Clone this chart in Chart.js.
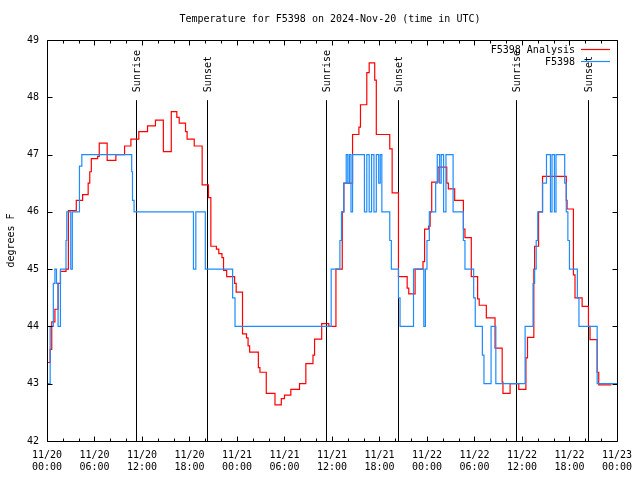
<!DOCTYPE html>
<html>
<head>
<meta charset="utf-8">
<title>Temperature for F5398</title>
<script src="https://cdn.jsdelivr.net/npm/chart.js@4/dist/chart.umd.min.js"></script>
<style>
  body { margin: 0; background: #fff; }
  canvas { display: block; }
</style>
</head>
<body>
<canvas id="tempChart" width="640" height="480"></canvas>
<script>
// hours since 2024-11-20 00:00 UTC
const analysisHours = [
  0.0, 0.4, 0.6, 1.0, 1.4, 1.7, 2.4, 2.7, 3.7, 4.5,
  5.2, 5.4, 5.6, 6.4, 6.6, 7.6, 8.7, 9.8, 10.6, 11.6,
  12.7, 13.7, 14.7, 15.7, 16.4, 16.7, 17.5, 17.7, 18.6, 19.6,
  20.4, 20.7, 21.4, 21.7, 22.1, 22.3, 22.7, 23.7, 23.9, 24.7,
  25.2, 25.4, 25.6, 26.7, 26.9, 27.7, 28.8, 29.6, 30.0, 30.8,
  31.9, 32.7, 33.6, 33.8, 34.7, 35.6, 36.5, 37.3, 37.5, 38.6,
  39.4, 39.6, 40.4, 40.7, 41.4, 41.6, 43.3, 43.6, 44.4, 45.5,
  45.7, 46.5, 47.5, 47.7, 48.2, 48.4, 48.6, 49.4, 50.5, 50.7,
  51.5, 52.6, 52.8, 53.6, 54.4, 54.6, 55.5, 56.6, 57.5, 57.6,
  58.5, 59.6, 60.5, 60.7, 61.5, 61.6, 62.1, 62.6, 65.6, 65.7,
  66.5, 66.7, 67.6, 68.4, 68.6, 69.5, 69.7, 71.3
];
const analysisTemps = [
  43.37, 43.6, 44.08, 44.3, 44.75, 44.96, 45.0, 46.02, 46.2, 46.3,
  46.5, 46.7, 46.93, 46.97, 47.2, 46.9, 47.0, 47.15, 47.27, 47.4,
  47.5, 47.6, 47.05, 47.75, 47.65, 47.55, 47.4, 47.27, 47.15, 46.47,
  46.25, 45.4, 45.35, 45.27, 45.2, 44.98, 44.87, 44.75, 44.6, 43.87,
  43.8, 43.66, 43.55, 43.28, 43.2, 42.83, 42.63, 42.74, 42.8, 42.9,
  43.0, 43.35, 43.5, 43.78, 44.05, 44.0, 45.0, 46.0, 46.5, 47.35,
  47.48, 47.87, 48.43, 48.6, 48.3, 47.35, 47.1, 46.33, 44.87, 44.67,
  44.57, 45.0, 45.13, 45.7, 45.75, 46.0, 46.52, 46.78, 46.5, 46.4,
  46.2, 45.7, 45.55, 44.87, 44.48, 44.37, 44.15, 43.62, 43.03, 42.83,
  43.0, 42.9, 43.45, 43.81, 45.0, 45.4, 46.0, 46.62, 46.2, 46.05,
  44.9, 44.5, 44.35, 44.0, 43.77, 43.2, 42.98, 42.98
];

const stationHours = [
  0.0, 0.4, 0.8, 1.0, 1.2, 1.4, 1.7, 2.4, 2.5, 3.0,
  3.2, 4.1, 4.4, 10.7, 10.8, 11.0, 18.5, 18.8, 20.0, 23.45,
  23.75, 35.9, 37.0, 37.2, 37.5, 37.8, 38.0, 38.2, 38.4, 38.6,
  40.1, 40.4, 40.7, 41.0, 41.3, 41.6, 41.9, 42.1, 42.3, 43.3,
  43.5, 44.4, 44.6, 46.3, 47.6, 47.8, 48.0, 48.3, 49.1, 49.3,
  49.6, 49.8, 50.1, 50.4, 51.3, 52.6, 52.8, 53.9, 54.1, 55.0,
  55.2, 56.1, 56.7, 60.4, 61.4, 61.6, 61.8, 62.0, 62.6, 63.1,
  63.6, 63.8, 64.1, 64.3, 65.4, 65.6, 65.8, 66.0, 67.0, 67.2,
  69.5, 72.0
];
const stationTemps = [
  43.0, 44.0, 44.75, 45.0, 44.75, 44.0, 45.0, 45.5, 46.0, 45.0,
  46.0, 46.8, 47.0, 46.7, 46.2, 46.0, 45.0, 46.0, 45.0, 44.5,
  44.0, 45.0, 45.5, 46.0, 46.5, 47.0, 46.5, 47.0, 46.0, 47.0,
  46.0, 47.0, 46.0, 47.0, 46.0, 47.0, 46.5, 47.0, 46.0, 45.5,
  45.0, 44.5, 44.0, 45.0, 44.0, 45.0, 45.5, 46.0, 46.5, 47.0,
  46.5, 47.0, 46.0, 47.0, 46.0, 45.5, 45.0, 44.5, 44.0, 43.5,
  43.0, 44.0, 43.0, 44.0, 44.75, 45.0, 45.5, 46.0, 46.5, 47.0,
  46.0, 47.0, 46.0, 47.0, 46.5, 46.0, 45.5, 45.0, 44.5, 44.0,
  43.0, 43.0
];

const sunHours = [11.18, 20.2, 35.22, 44.29, 59.27, 68.28];
const sunLabels = ['Sunrise', 'Sunset', 'Sunrise', 'Sunset', 'Sunrise', 'Sunset'];

const xTickLabels = [
  ['11/20', '00:00'], ['11/20', '06:00'], ['11/20', '12:00'], ['11/20', '18:00'],
  ['11/21', '00:00'], ['11/21', '06:00'], ['11/21', '12:00'], ['11/21', '18:00'],
  ['11/22', '00:00'], ['11/22', '06:00'], ['11/22', '12:00'], ['11/22', '18:00'],
  ['11/23', '00:00']
];

const titleText = 'Temperature for F5398 on 2024-Nov-20 (time in UTC)';
const seriesNames = ['F5398 Analysis', 'F5398'];
const seriesColors = ['#ff0000', '#1e8cff'];

const FONT = '10px "DejaVu Sans Mono", "Liberation Mono", monospace';

Chart.defaults.font.family = '"DejaVu Sans Mono", "Liberation Mono", monospace';
Chart.defaults.font.size = 10;
Chart.defaults.color = '#000';

// gnuplot look: frame, inward ticks, sun lines, title, legend
const gnuplotDecor = {
  id: 'gnuplotDecor',
  beforeDatasetsDraw(chart) {
    const { ctx, chartArea: a, scales: { x } } = chart;
    ctx.save();
    ctx.strokeStyle = '#000';
    ctx.lineWidth = 1;
    ctx.fillStyle = '#000';
    ctx.font = FONT;
    const lineTop = a.bottom - 0.85 * (a.bottom - a.top);
    sunHours.forEach((h, i) => {
      const px = Math.round(x.getPixelForValue(h)) + 0.5;
      ctx.beginPath();
      ctx.moveTo(px, lineTop);
      ctx.lineTo(px, a.bottom);
      ctx.stroke();
      ctx.save();
      ctx.translate(px + 1, lineTop - 8);
      ctx.rotate(-Math.PI / 2);
      ctx.textAlign = 'left';
      ctx.textBaseline = 'middle';
      ctx.fillText(sunLabels[i], 0, 0);
      ctx.restore();
    });
    ctx.restore();
  },
  afterDatasetsDraw(chart) {
    const { ctx, chartArea: a, scales: { x, y } } = chart;
    ctx.save();
    ctx.strokeStyle = '#000';
    ctx.lineWidth = 1;
    const L = Math.round(a.left) + 0.5, R = Math.round(a.right) + 0.5;
    const T = Math.round(a.top) + 0.5, B = Math.round(a.bottom) + 0.5;
    ctx.beginPath();
    ctx.rect(L, T, R - L, B - T);
    ctx.stroke();

    ctx.beginPath();
    for (let h = 0; h <= 72; h += 2) {
      const px = Math.round(x.getPixelForValue(h)) + 0.5;
      const len = h % 6 === 0 ? 5 : 3;
      ctx.moveTo(px, B); ctx.lineTo(px, B - len);
      ctx.moveTo(px, T); ctx.lineTo(px, T + len);
    }
    for (let v = 42; v <= 49; v++) {
      const py = Math.round(y.getPixelForValue(v)) + 0.5;
      ctx.moveTo(L, py); ctx.lineTo(L + 5, py);
      ctx.moveTo(R, py); ctx.lineTo(R - 5, py);
    }
    ctx.stroke();

    // title
    ctx.fillStyle = '#000';
    ctx.font = FONT;
    ctx.textAlign = 'center';
    ctx.textBaseline = 'middle';
    ctx.fillText(titleText, (a.left + a.right) / 2 - 2, 19);

    // legend
    ctx.textAlign = 'right';
    seriesNames.forEach((name, i) => {
      const ly = 50 + i * 12;
      ctx.fillStyle = '#000';
      ctx.fillText(name, 575, ly);
      ctx.strokeStyle = seriesColors[i];
      ctx.lineWidth = 1.2;
      ctx.beginPath();
      ctx.moveTo(581, ly - 0.5);
      ctx.lineTo(610, ly - 0.5);
      ctx.stroke();
    });
    ctx.restore();
  }
};

const toPoints = (xs, ys) => xs.map((h, i) => ({ x: h, y: ys[i] }));

new Chart(document.getElementById('tempChart'), {
  type: 'line',
  data: {
    datasets: [
      {
        label: seriesNames[0],
        data: toPoints(analysisHours, analysisTemps),
        borderColor: seriesColors[0],
        borderWidth: 1.2,
        pointRadius: 0,
        stepped: 'before',
        order: 1
      },
      {
        label: seriesNames[1],
        data: toPoints(stationHours, stationTemps),
        borderColor: seriesColors[1],
        borderWidth: 1.2,
        pointRadius: 0,
        stepped: 'before',
        order: 0
      }
    ]
  },
  options: {
    responsive: false,
    devicePixelRatio: 1,
    animation: false,
    layout: { padding: { top: 40, right: 18, bottom: 0, left: 0 } },
    plugins: {
      legend: { display: false },
      tooltip: { enabled: false }
    },
    scales: {
      x: {
        type: 'linear',
        min: 0,
        max: 72,
        grid: { display: false, drawTicks: false },
        border: { display: false },
        ticks: {
          stepSize: 6,
          autoSkip: false,
          maxRotation: 0,
          padding: 8,
          callback: (v) => xTickLabels[Math.round(v / 6)]
        },
        afterFit: (scale) => { scale.height = 39; }
      },
      y: {
        min: 42,
        max: 49,
        grid: { display: false, drawTicks: false },
        border: { display: false },
        ticks: { stepSize: 1, padding: 8 },
        title: { display: true, text: 'degrees F', padding: { top: 5, bottom: 0 } },
        afterFit: (scale) => { scale.width = 47; }
      }
    }
  },
  plugins: [gnuplotDecor]
});
</script>
</body>
</html>
